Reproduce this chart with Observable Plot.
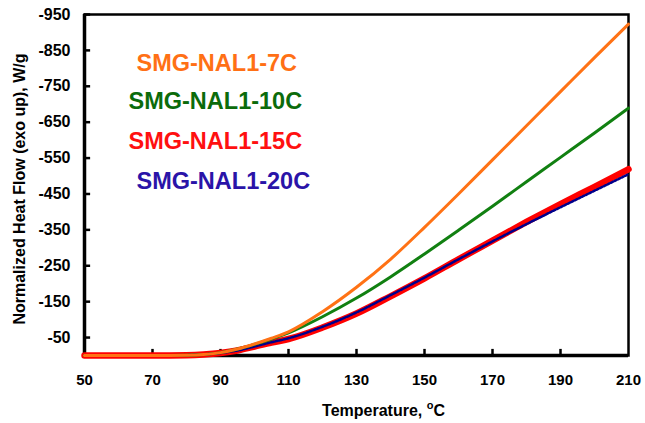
<!DOCTYPE html>
<html>
<head>
<meta charset="utf-8">
<script src="https://cdn.jsdelivr.net/npm/d3@7"></script>
<script src="https://cdn.jsdelivr.net/npm/@observablehq/plot@0.6"></script>
<style>
  html, body { margin: 0; padding: 0; background: #fff; }
  svg { font-family: "Liberation Sans", Arial, sans-serif; }
</style>
</head>
<body>
<div id="chart"></div>
<script>
// Temperature (°C)
const temps = [50, 60, 70, 80, 85, 90, 95, 100, 105, 110, 120, 130, 140, 150, 160, 170, 180, 190, 200, 210];
// Normalized heat flow (W/g), exo up (negative values)
const flow7C  = [0, 0, 0, -1, -3, -8, -18, -32, -48, -66, -122, -190, -268, -357, -450, -545, -640, -735, -830, -923];
const flow10C = [0, 0, 0, -1, -3, -8, -18, -31, -46, -63, -108, -160, -219, -283, -349, -416, -484, -552, -620, -689];
const flow15C = [0, 0, 0, -1, -3, -7, -14, -25, -36, -46, -78, -117, -165, -215, -268, -320, -372, -422, -470, -519];
const flow20C = [0, 0, 0, -1, -3, -7, -14, -25, -37, -48, -80, -120, -168, -217, -268, -318, -366, -413, -459, -505];
const seriesNames = ["SMG-NAL1-7C", "SMG-NAL1-10C", "SMG-NAL1-15C", "SMG-NAL1-20C"];
const xTicks = [50, 70, 90, 110, 130, 150, 170, 190, 210];
const yTicks = [-950, -850, -750, -650, -550, -450, -350, -250, -150, -50];
const xTitle = ["Temperature, ", "o", "C"];
const yTitle = "Normalized Heat Flow (exo up), W/g";

const rows = (vals) => temps.map((t, i) => ({t, v: vals[i]}));
const font = "Liberation Sans, Arial, sans-serif";

const chart = Plot.plot({
  width: 645,
  height: 423,
  marginLeft: 84,
  marginRight: 17,
  marginTop: 14,
  marginBottom: 68,
  style: {fontFamily: font, background: "#fff"},
  x: {domain: [50, 210], ticks: xTicks, label: null},
  y: {domain: [0, -950], ticks: yTicks, label: null},
  marks: [
    Plot.frame({stroke: "black", strokeWidth: 2.5}),
    Plot.ruleX([50], {stroke: "black", strokeWidth: 3.5}),
    Plot.ruleY([0], {stroke: "black", strokeWidth: 3.5}),
    Plot.ruleY(yTicks, {x1: 50, x2: 51.8, stroke: "black", strokeWidth: 2.5}),
    Plot.ruleX(xTicks.slice(1, -1), {y1: 0, y2: -17, stroke: "black", strokeWidth: 2.5}),
    Plot.axisY({ticks: yTicks, tickSize: 0, tickPadding: 14, tickFormat: d => String(d), label: null,
      fontSize: 16, fontWeight: "bold", fill: "black"}),
    Plot.axisX({ticks: xTicks, tickSize: 0, tickPadding: 19, tickFormat: d => String(d), label: null,
      fontSize: 15, fontWeight: "bold", fill: "black"}),
    Plot.line(rows(flow15C), {x: "t", y: "v", stroke: "#FF0000", strokeWidth: 6.5, curve: "monotone-x"}),
    Plot.line(rows(flow20C), {x: "t", y: "v", stroke: "#00008B", strokeWidth: 2.5, strokeDasharray: "2.5,1.5", curve: "monotone-x"}),
    Plot.line(rows(flow10C), {x: "t", y: "v", stroke: "#118011", strokeWidth: 3, curve: "monotone-x"}),
    Plot.line(rows(flow7C), {x: "t", y: "v", stroke: "#FF7215", strokeWidth: 3, curve: "monotone-x"}),
    Plot.text([seriesNames[0]], {frameAnchor: "top-left", dx: 52, dy: 49, textAnchor: "start", lineAnchor: "middle",
      fill: "#FF7015", fontSize: 23.5, fontWeight: "bold"}),
    Plot.text([seriesNames[1]], {frameAnchor: "top-left", dx: 44, dy: 87, textAnchor: "start", lineAnchor: "middle",
      fill: "#0B6B0B", fontSize: 23.5, fontWeight: "bold"}),
    Plot.text([seriesNames[2]], {frameAnchor: "top-left", dx: 44, dy: 127, textAnchor: "start", lineAnchor: "middle",
      fill: "#FF1010", fontSize: 23.5, fontWeight: "bold"}),
    Plot.text([seriesNames[3]], {frameAnchor: "top-left", dx: 52, dy: 167, textAnchor: "start", lineAnchor: "middle",
      fill: "#2A14A8", fontSize: 23.5, fontWeight: "bold"}),
    Plot.text([xTitle.join("")], {frameAnchor: "bottom", dx: 27, dy: 55, lineAnchor: "middle",
      fontSize: 16, fontWeight: "bold", fill: "black"}),
    Plot.text([yTitle], {frameAnchor: "left", rotate: -90, dx: -65, dy: 4, textAnchor: "middle", lineAnchor: "middle",
      fontSize: 16, fontWeight: "bold", fill: "black"})
  ]
});

// superscript "o" in the x title
d3.select(chart).selectAll("text").filter(function() { return this.textContent === xTitle.join(""); })
  .each(function() {
    const t = d3.select(this);
    t.text(null);
    t.append("tspan").text(xTitle[0]);
    t.append("tspan").attr("font-size", 11).attr("dy", -7).text(xTitle[1]);
    t.append("tspan").attr("dy", 7).text(xTitle[2]);
  });

document.getElementById("chart").appendChild(chart);
</script>
</body>
</html>
